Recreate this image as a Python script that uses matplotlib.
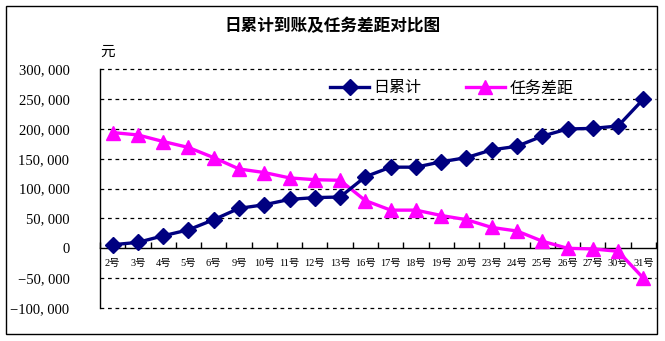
import matplotlib
matplotlib.use("Agg")
import matplotlib.pyplot as plt
from matplotlib.patches import Rectangle
from matplotlib.ticker import FixedLocator, FuncFormatter

plt.rcParams['font.family'] = ['Noto Sans CJK SC', 'DejaVu Sans']

# ── Data ──────────────────────────────────────────────────────────────────────

days = ["2号", "3号", "4号", "5号", "6号", "9号", "10号", "11号", "12号", "13号",
        "16号", "17号", "18号", "19号", "20号", "23号", "24号", "25号", "26号",
        "27号", "30号", "31号"]

daily_total = [6000, 10000, 21000, 31000, 48000, 67000, 73000, 82000, 85000, 86000,
               120000, 136000, 136000, 145000, 152000, 165000, 171000, 188000,
               200000, 201000, 205000, 250000]

target_gap = [194000, 190000, 179000, 169000, 152000, 133000, 127000, 118000, 115000,
              114000, 80000, 64000, 64000, 55000, 48000, 35000, 29000, 12000,
              0, -1000, -5000, -50000]

y_ticks = [-100000, -50000, 0, 50000, 100000, 150000, 200000, 250000, 300000]

# ── Plot ──────────────────────────────────────────────────────────────────────

W, H = 665, 341
fig = plt.figure(figsize=(W / 100, H / 100), dpi=100)
fig.patch.set_facecolor("white")

# chart border
fig.patches.append(Rectangle((6 / W, 1 - 334 / H), 651 / W, 328 / H,
                             transform=fig.transFigure, fill=False,
                             edgecolor="black", lw=1.0))

ax = fig.add_axes([100 / W, 1 - 308 / H, 556 / W, 238.7 / H])
x = list(range(len(days)))

ax.plot(x, daily_total, color="#000080", lw=2.4, marker="D", ms=8.5,
        label="日累计", zorder=4, clip_on=False)
ax.plot(x, target_gap, color="#FF00FF", lw=2.4, marker="^", ms=10,
        label="任务差距", zorder=3, clip_on=False)

ax.set_xlim(-0.5, len(days) - 0.5)
ax.set_ylim(-100000, 300000)

# y axis
ax.yaxis.set_major_locator(FixedLocator(y_ticks))
ax.yaxis.set_major_formatter(FuncFormatter(
    lambda v, _: "0" if v == 0 else f"{int(v):,}".replace(",", ", ").replace("-", "−")))
ax.tick_params(axis="y", length=0, pad=22, labelsize=10.5)
for lbl in ax.get_yticklabels():
    lbl.set_family(["Liberation Serif", "DejaVu Sans"])

# dashed grid lines, zero line is the category axis
for v in y_ticks:
    if v != 0:
        ax.axhline(v, color="black", lw=0.9, ls=(0, (3, 3)), zorder=1, clip_on=False)

for s in ["top", "right"]:
    ax.spines[s].set_visible(False)
ax.spines["left"].set_linewidth(1.0)
ax.spines["bottom"].set_position(("data", 0))
ax.spines["bottom"].set_linewidth(1.0)

ax.set_xticks(x)
ax.set_xticklabels(days, fontsize=7.5, family=["Liberation Serif", "Noto Sans CJK SC"])
ax.set_xticks([i - 0.5 for i in range(len(days) + 1)], minor=True)
ax.tick_params(axis="x", which="major", length=0, pad=8)
ax.tick_params(axis="x", which="minor", length=4, direction="in", width=1.0)

ax.legend(loc="center", bbox_to_anchor=(0.633, 0.922), ncol=2, frameon=False,
          fontsize=11.5, handlelength=2.4, columnspacing=2.8, handletextpad=0.3)

fig.text(332 / W, 1 - 26 / H, "日累计到账及任务差距对比图", ha="center", va="center",
         fontsize=12, fontweight="bold")
fig.text(108 / W, 1 - 52 / H, "元", ha="center", va="center", fontsize=10.5)

fig.savefig("out.png", dpi=100)
